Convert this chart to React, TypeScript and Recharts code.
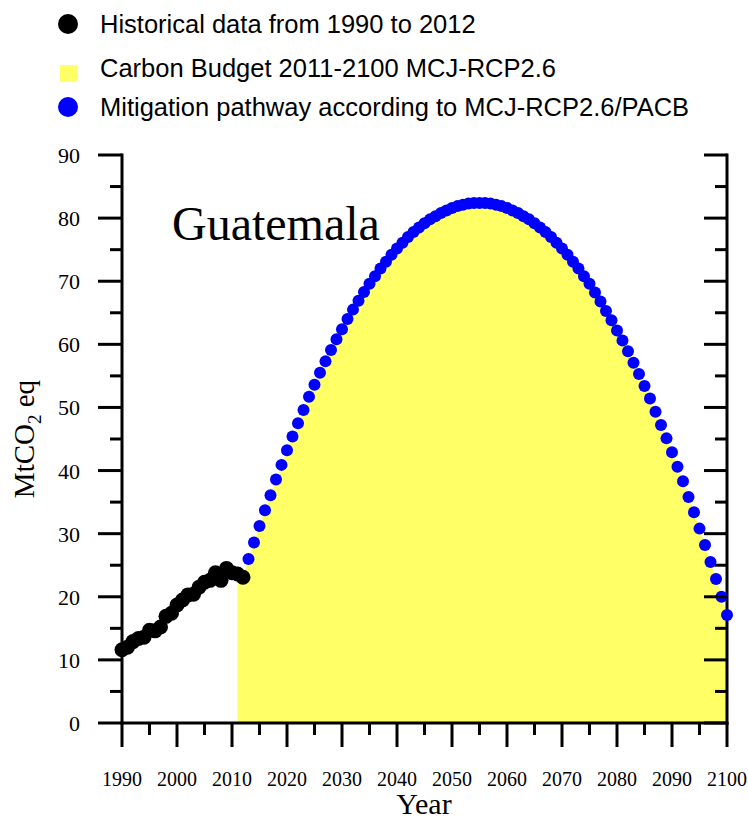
import React from 'react';
import { ComposedChart, Area, Line, XAxis, YAxis } from 'recharts';

// Historical data 1990-2012 (MtCO2 eq)
const HIST_START = 1990;
const histValues = [
  11.6, 12.0, 12.9, 13.4, 13.6, 14.7, 14.6, 15.2, 16.9, 17.4,
  18.7, 19.5, 20.3, 20.4, 21.5, 22.3, 22.6, 23.8, 22.6, 24.5,
  23.8, 23.6, 23.1,
];

// Mitigation pathway 2013-2100 (MtCO2 eq)
const PATH_START = 2013;
const pathValues = [
  26.0, 28.6, 31.2, 33.7, 36.1, 38.6, 40.9, 43.2, 45.4, 47.5,
  49.6, 51.7, 53.6, 55.5, 57.3, 59.1, 60.8, 62.4, 64.0, 65.5,
  66.9, 68.3, 69.6, 70.8, 72.0, 73.1, 74.2, 75.2, 76.1, 77.0,
  77.8, 78.5, 79.2, 79.8, 80.3, 80.8, 81.2, 81.6, 81.9, 82.1,
  82.3, 82.4, 82.4, 82.4, 82.3, 82.1, 81.9, 81.6, 81.2, 80.8,
  80.3, 79.8, 79.2, 78.5, 77.8, 77.0, 76.1, 75.2, 74.2, 73.1,
  72.0, 70.8, 69.6, 68.2, 66.8, 65.3, 63.8, 62.2, 60.6, 58.9,
  57.1, 55.3, 53.4, 51.4, 49.3, 47.2, 45.1, 42.9, 40.6, 38.3,
  35.8, 33.4, 30.8, 28.2, 25.5, 22.8, 20.0, 17.1,
];

// Carbon budget area 2011-2100: starts at the 2011/2012 emissions, then follows the pathway
const BUDGET_START = 2011;
const budgetHead = [23.6, 23.2];

const xTicks = [
  1990, 1995, 2000, 2005, 2010, 2015, 2020, 2025, 2030, 2035, 2040, 2045,
  2050, 2055, 2060, 2065, 2070, 2075, 2080, 2085, 2090, 2095, 2100,
];
const yTicks = [0, 5, 10, 15, 20, 25, 30, 35, 40, 45, 50, 55, 60, 65, 70, 75, 80, 85, 90];

const legendItems = [
  { label: 'Historical data from 1990 to 2012', color: '#000000', shape: 'circle' },
  { label: 'Carbon Budget 2011-2100 MCJ-RCP2.6', color: '#FFFF66', shape: 'square' },
  { label: 'Mitigation pathway according to MCJ-RCP2.6/PACB', color: '#0000FF', shape: 'circle' },
];

const budgetValues = [...budgetHead, ...pathValues];

type Row = { year: number; hist?: number; budget?: number; path?: number };
const rows: Row[] = [];
for (let y = 1990; y <= 2100; y++) rows.push({ year: y });
histValues.forEach((v, i) => { rows[HIST_START + i - 1990].hist = v; });
pathValues.forEach((v, i) => { rows[PATH_START + i - 1990].path = v; });
budgetValues.forEach((v, i) => { rows[BUDGET_START + i - 1990].budget = v; });

const SERIF = '"Liberation Serif", "Times New Roman", serif';
const SANS = '"Liberation Sans", Arial, sans-serif';
const SW = 3;

const BottomTick = (props: any) => {
  const { x, y, payload } = props;
  const major = payload.value % 10 === 0;
  return (
    <g>
      <line x1={x} x2={x} y1={y} y2={y + (major ? 24 : 12)} stroke="#000" strokeWidth={SW} />
      {major && (
        <text x={x} y={y + 63} textAnchor="middle" fontFamily={SERIF} fontSize={20} fill="#000">
          {payload.value}
        </text>
      )}
    </g>
  );
};

const TopTick = (props: any) => {
  const { x, y, payload } = props;
  const major = payload.value % 10 === 0;
  return <line x1={x} x2={x} y1={y} y2={y + (major ? 24 : 12)} stroke="#000" strokeWidth={SW} />;
};

const LeftTick = (props: any) => {
  const { x, y, payload } = props;
  const major = payload.value % 10 === 0;
  return (
    <g>
      <line x1={x - (major ? 24 : 12)} x2={x} y1={y} y2={y} stroke="#000" strokeWidth={SW} />
      {major && (
        <text x={x - 42} y={y + 8} textAnchor="end" fontFamily={SERIF} fontSize={22} fill="#000">
          {payload.value}
        </text>
      )}
    </g>
  );
};

const RightTick = (props: any) => {
  const { x, y, payload } = props;
  const major = payload.value % 10 === 0;
  return <line x1={x - (major ? 23 : 12)} x2={x} y1={y} y2={y} stroke="#000" strokeWidth={SW} />;
};

const axisLine = { stroke: '#000', strokeWidth: SW, strokeLinecap: 'square' as const };

export default function App() {
  return (
    <div style={{ position: 'absolute', left: 0, top: 0, width: 748, height: 820, background: '#fff' }}>
      <ComposedChart
        width={748}
        height={820}
        data={rows}
        margin={{ top: 155, right: 0, bottom: 0, left: 0 }}
      >
        <XAxis
          dataKey="year"
          type="number"
          domain={[1990, 2100]}
          ticks={xTicks}
          interval={0}
          height={97}
          tickSize={0}
          tickMargin={0}
          tickLine={false}
          axisLine={axisLine}
          tick={<BottomTick />}
        />
        <XAxis
          xAxisId="top"
          orientation="top"
          type="number"
          dataKey="year"
          domain={[1990, 2100]}
          ticks={xTicks}
          interval={0}
          height={0}
          tickSize={0}
          tickMargin={0}
          tickLine={false}
          axisLine={axisLine}
          tick={<TopTick />}
          allowDataOverflow
        />
        <YAxis
          type="number"
          domain={[0, 90]}
          ticks={yTicks}
          interval={0}
          width={122}
          tickSize={0}
          tickMargin={0}
          tickLine={false}
          axisLine={axisLine}
          tick={<LeftTick />}
        />
        <YAxis
          yAxisId="right"
          orientation="right"
          type="number"
          domain={[0, 90]}
          ticks={yTicks}
          interval={0}
          width={21}
          tickSize={0}
          tickMargin={0}
          tickLine={false}
          axisLine={axisLine}
          tick={<RightTick />}
          allowDataOverflow
        />
        <Area
          dataKey="budget"
          type="linear"
          fill="#FFFF66"
          fillOpacity={1}
          stroke="none"
          isAnimationActive={false}
          legendType="none"
          activeDot={false}
          dot={false}
        />
        <Line
          dataKey="path"
          stroke="none"
          strokeWidth={0}
          isAnimationActive={false}
          dot={{ r: 6, fill: '#0000FF', stroke: 'none', strokeWidth: 0 }}
          activeDot={false}
          legendType="none"
        />
        <Line
          dataKey="hist"
          stroke="none"
          strokeWidth={0}
          isAnimationActive={false}
          dot={{ r: 7.5, fill: '#000000', stroke: 'none', strokeWidth: 0 }}
          activeDot={false}
          legendType="none"
        />
      </ComposedChart>
      <svg
        width={748}
        height={820}
        style={{ position: 'absolute', left: 0, top: 0, pointerEvents: 'none' }}
      >
        {legendItems.map((it, i) => {
          const cy = [24, 68, 107][i];
          return (
            <g key={it.label}>
              {it.shape === 'circle' ? (
                <circle cx={68} cy={cy} r={10} fill={it.color} />
              ) : (
                <rect x={60} y={cy - 3} width={17} height={17} fill={it.color} />
              )}
              <text x={100} y={cy + 9} fontFamily={SANS} fontSize={25.5} fill="#000">
                {it.label}
              </text>
            </g>
          );
        })}
        <text x={172} y={240} fontFamily={SERIF} fontSize={48} fill="#000">Guatemala</text>
        <text x={424} y={814} textAnchor="middle" fontFamily={SERIF} fontSize={30} fill="#000">Year</text>
        <text
          x={0}
          y={0}
          transform="translate(34, 439) rotate(-90)"
          textAnchor="middle"
          fontFamily={SERIF}
          fontSize={29}
          fill="#000"
        >
          MtCO
          <tspan fontSize={19} dy={7}>2</tspan>
          <tspan dy={-7}> eq</tspan>
        </text>
      </svg>
    </div>
  );
}
